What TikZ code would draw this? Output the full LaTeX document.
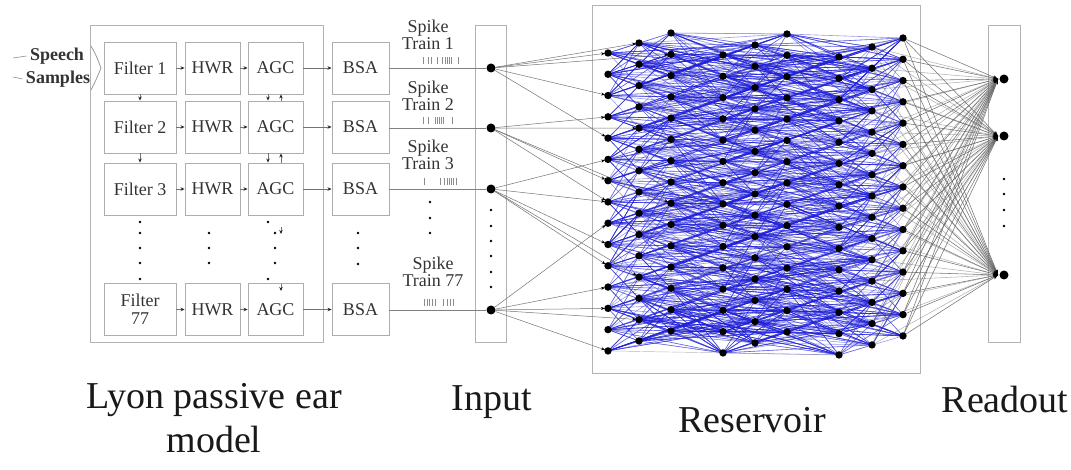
\documentclass[tikz,border=0pt]{standalone}
\usepackage{fontspec}
\IfFontExistsTF{Liberation Serif}{\setmainfont{Liberation Serif}}{\setmainfont{LiberationSerif-Regular.ttf}[BoldFont=LiberationSerif-Bold.ttf]}
\usetikzlibrary{arrows.meta}
\begin{document}
\begin{tikzpicture}[x=1pt,y=-1pt,
  blk/.style={draw=black!32, line width=0.9pt, inner sep=0pt, font=\rmfamily\fontsize{18}{18}\selectfont, text=black!80, align=center, minimum height=52pt},
  frame/.style={draw=black!30, line width=0.9pt},
  arr/.style={draw=black!55, line width=0.7pt, -{Stealth[length=4pt,width=3.5pt,black!85]}},
  tip/.style={-{Stealth[length=4pt,width=3.5pt,black!85]}, draw=black!55, line width=0.7pt},
  lbl/.style={font=\rmfamily\fontsize{18}{20}\selectfont, text=black!80, align=center},
  big/.style={font=\rmfamily\fontsize{38}{44}\selectfont, text=black!90, align=center},
  resedge/.style={draw={rgb,255:red,30;green,30;blue,215}, line width=0.6pt, draw opacity=0.45},
  inedge/.style={draw=black!55, line width=0.5pt, -{Stealth[length=4pt,width=3pt,black]}, shorten >=3pt},
  outedge/.style={draw=black!60, line width=0.55pt, draw opacity=0.9, -{Stealth[length=5pt,width=3.5pt,black]}},
  spk/.style={draw=black!45, line width=0.6pt},
  dotn/.style={circle, fill=black, inner sep=0pt, minimum size=2.8pt},
  neuron/.style={circle, fill=black, inner sep=0pt, minimum size=9pt}
]
\useasboundingbox (0,0) rectangle (1071,470);

% ---------------- Lyon passive ear model ----------------
\draw[frame] (90,25) rectangle (323,342);
\foreach \n/\y/\t in {1/68/{Filter 1}, 2/127/{Filter 2}, 3/189/{Filter 3}, 77/309.5/{Filter\\77}}{
  \node[blk, minimum width=72pt] (F\n) at (140,\y) {\t};
  \node[blk, minimum width=55pt] (H\n) at (212.5,\y) {HWR};
  \node[blk, minimum width=55pt] (A\n) at (275.5,\y) {AGC};
  \node[blk, minimum width=57pt] (B\n) at (360.5,\y) {BSA};
  \draw[arr] (F\n.east) -- (H\n.west);
  \draw[arr] (H\n.east) -- (A\n.west);
  \draw[arr] (A\n.east) -- (B\n.west);
}
\foreach \a/\b in {1/2, 2/3}{
  \draw[arr] (F\a.south) -- (F\b.north);
  \draw[arr] ([xshift=-7.5pt]A\a.south) -- ([xshift=-7.5pt]A\b.north);
  \draw[arr] ([xshift=5.5pt]A\b.north) -- ([xshift=5.5pt]A\a.south);
}
% dots in the Lyon model
\foreach \y in {222,233,248,263,279}{ \node[dotn] (fd\y) at (140,\y) {}; }
\foreach \y in {233,248,263}{ \node[dotn] (hd\y) at (209,\y) {}; \node[dotn] (ad\y) at (275,\y) {}; }
\node[dotn] (ad1) at (268,222) {};
\node[dotn] (ad2) at (268,279) {};
\coordinate (au1) at (281,227);
\coordinate (au2) at (281,284);
\draw[tip] (au1) -- ([yshift=-7pt]au1);
\draw[tip] (au2) -- ([yshift=-7pt]au2);
\foreach \y in {233,248,264}{ \node[dotn] (bd\y) at (358,\y) {}; }

% Speech samples
\node[lbl, font=\rmfamily\fontsize{18}{20}\selectfont\bfseries] (sp) at (57,56) {Speech};
\node[lbl, font=\rmfamily\fontsize{18}{20}\selectfont\bfseries] (sa) at (58,79) {Samples};
\coordinate (s1) at (13,58);
\coordinate (s2) at (13,77);
\draw[spk] (s1) -- (sp.west);
\draw[spk] (s2) -- (sa.west);
\coordinate (c1) at (91,46);
\coordinate (c2) at (101,68);
\coordinate (c3) at (91,90);
\draw[draw=black!40, line width=0.8pt] (c1) .. controls (96,55) .. (c2) .. controls (96,80) .. (c3);

% ---------------- Input ----------------
\draw[frame] (475,25) rectangle (506,342);
\foreach \n/\y in {1/68, 2/128, 3/189, 77/310}{
  \node[neuron] (I\n) at (491,\y) {};
  \draw[draw=black!50, line width=0.7pt] (B\n.east |- I\n) -- (I\n);
}
% spike trains labels
\node[lbl] (st1) at (428,35) {Spike\\[-3pt]Train 1};
\node[lbl] (st2) at (428,96) {Spike\\[-3pt]Train 2};
\node[lbl] (st3) at (428,155) {Spike\\[-3pt]Train 3};
\node[lbl] (st77) at (433,272) {Spike\\[-3pt]Train 77};
% spike ticks
\foreach \x in {423,428,431,437,442,445,447,449,451,458}{ \draw[spk] (\x,57) -- (\x,64); }
\foreach \x in {423,428,435,437,439,441,443,452}{ \draw[spk] (\x,117) -- (\x,124); }
\foreach \x in {424,440,444,447,449,451,453,456}{ \draw[spk] (\x,178) -- (\x,185); }
\foreach \x in {424,427,429,432,435,443,447,450,453}{ \draw[spk] (\x,299) -- (\x,306); }
\foreach \y in {202,218,233}{ \node[dotn] (sd\y) at (430,\y) {}; }
\foreach \y in {210,226,241,256,272,287}{ \node[dotn] (id\y) at (491,\y) {}; }

% ---------------- Reservoir ----------------
\draw[frame] (592,5) rectangle (920,373);
\foreach \c/\x/\y in {1/608/53, 2/639/43, 3/671/33, 4/723/55, 5/755/45, 6/787/34, 7/839/57, 8/872/47, 9/903/38}{
  \foreach \r in {0,...,14}{
    \coordinate (R-\c-\r) at (\x,{\y+21.28*\r});
  }
}
\pgfmathsetseed{2024}
\foreach \c in {1,...,9}{
  \foreach \r in {0,...,14}{
    \foreach \k in {1,...,20}{
      \pgfmathtruncatemacro\dd{random(1,4)}
      \pgfmathtruncatemacro\ss{random(0,1)}
      \pgfmathtruncatemacro\tc{\c+(2*\ss-1)*\dd}
      \pgfmathtruncatemacro\tc{\tc>9 ? \c-\dd : (\tc<1 ? \c+\dd : \tc)}
      \pgfmathtruncatemacro\tr{\r+random(0,4)-2}
      \pgfmathtruncatemacro\tr{\tr<0 ? -\tr : (\tr>14 ? 28-\tr : \tr)}
      \draw[resedge] (R-\c-\r) -- (R-\tc-\tr);
    }
  }
}
% some long grey links
\foreach \a/\b in {1-2/6-5, 2-9/8-3, 3-12/9-7, 1-13/5-14, 4-1/9-0, 3-0/6-0, 2-6/7-11, 4-10/8-8, 1-14/4-14, 4-14/7-14}{
  \draw[draw=black!45, line width=0.45pt, draw opacity=0.6] (R-\a) -- (R-\b);
}

% input connections
\foreach \t in {1-0, 2-0, 3-1, 1-2, 1-4}{ \draw[inedge] (I1) -- (R-\t); }
\foreach \t in {1-3, 2-4, 1-6, 1-7, 3-8}{ \draw[inedge] (I2) -- (R-\t); }
\foreach \t in {1-5, 1-7, 1-9, 1-10, 2-11}{ \draw[inedge] (I3) -- (R-\t); }
\foreach \t in {1-8, 1-11, 1-12, 1-14, 2-13}{ \draw[inedge] (I77) -- (R-\t); }

% ---------------- Readout ----------------
\draw[frame] (988,25) rectangle (1020,342);
\node[neuron] (O1) at (1004,79) {};
\node[neuron] (O2) at (1004,136) {};
\node[neuron] (O3) at (1004,275) {};
\coordinate (OL1) at (998,79);
\coordinate (OL2) at (998,136);
\coordinate (OL3) at (998,275);
\foreach \y in {179,194,210,226}{ \node[dotn] (od\y) at (1004,\y) {}; }
\foreach \r in {0,...,14}{
  \foreach \o in {1,2,3}{
    \draw[outedge] (R-9-\r) -- (OL\o);
    \draw[outedge, draw opacity=0.5] (R-8-\r) -- (OL\o);
  }
}

% reservoir neurons
\foreach \c in {1,...,9}{
  \foreach \r in {0,...,14}{
    \fill[black] (R-\c-\r) circle (3.7pt);
  }
}

% ---------------- Labels ----------------
\node[big] (lyon) at (214,418) {Lyon passive ear\\model};
\node[big] (inp) at (492,402) {Input};
\node[big] (res) at (752,420) {Reservoir};
\node[big] (rdo) at (1005,400) {Readout};
\end{tikzpicture}
\end{document}
